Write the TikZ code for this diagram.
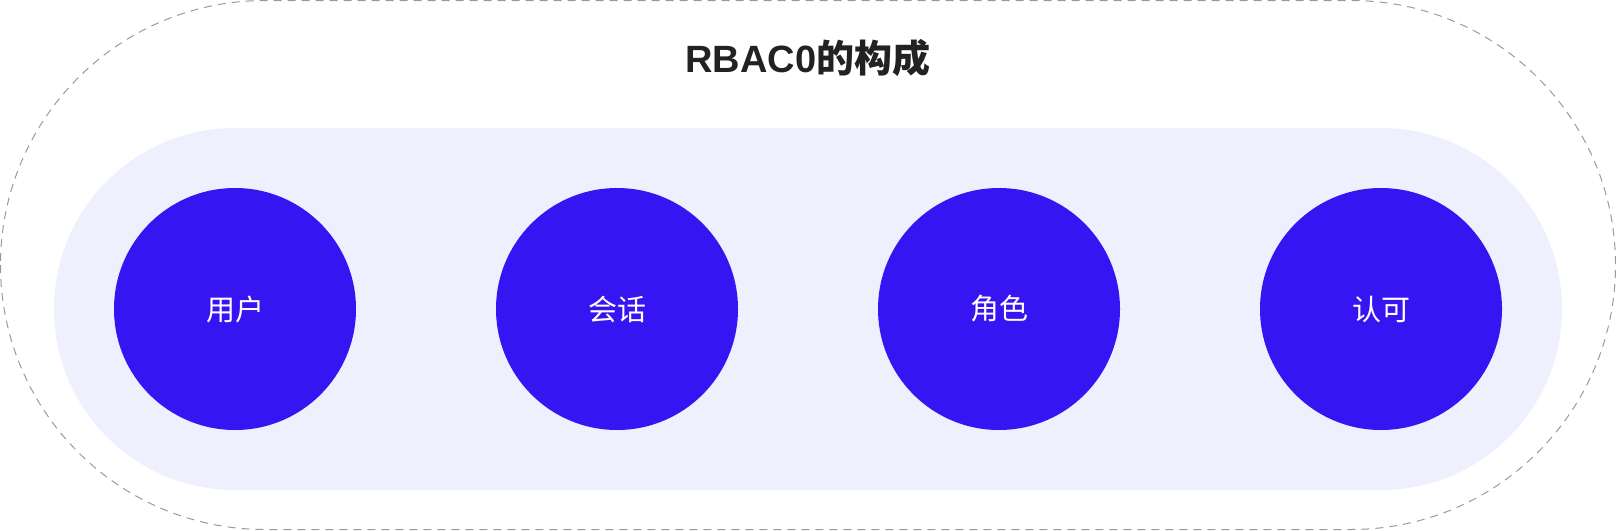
\documentclass[tikz,border=0pt]{standalone}
\usepackage{fontspec}
\newfontfamily\cjk{Noto Sans CJK SC}
\newfontfamily\latn{Liberation Sans}
\definecolor{circ}{HTML}{3714F2}
\definecolor{band}{HTML}{EFF0FE}
\definecolor{outl}{HTML}{9A9A9A}
\definecolor{ttl}{HTML}{222222}
\begin{document}
\begin{tikzpicture}[x=1pt,y=-1pt,
  outerbox/.style={draw=outl,line width=1pt,dash pattern=on 8pt off 6pt,rounded corners=264.5pt},
  bandbox/.style={fill=band,draw=none,rounded corners=181pt},
  rolecirc/.style={circle,fill=circ,draw=none,minimum size=242pt,inner sep=0pt,text=white,font=\cjk\fontsize{29}{29}\selectfont},
  titletext/.style={text=ttl,font=\bfseries\fontsize{38}{38}\selectfont}]
\useasboundingbox (0,0) rectangle (1616,530);
\draw[outerbox] (0.5,0.5) rectangle (1615.5,529.5);
\fill[bandbox] (54,128) rectangle (1562,490);
\node[titletext] (title) at (808,58) {{\latn RBAC0}{\cjk 的构成}};
\node[rolecirc] (user) at (235,309) {用户};
\node[rolecirc] (session) at (617,309) {会话};
\node[rolecirc] (role) at (999,309) {角色};
\node[rolecirc] (perm) at (1381,309) {认可};
\end{tikzpicture}
\end{document}
